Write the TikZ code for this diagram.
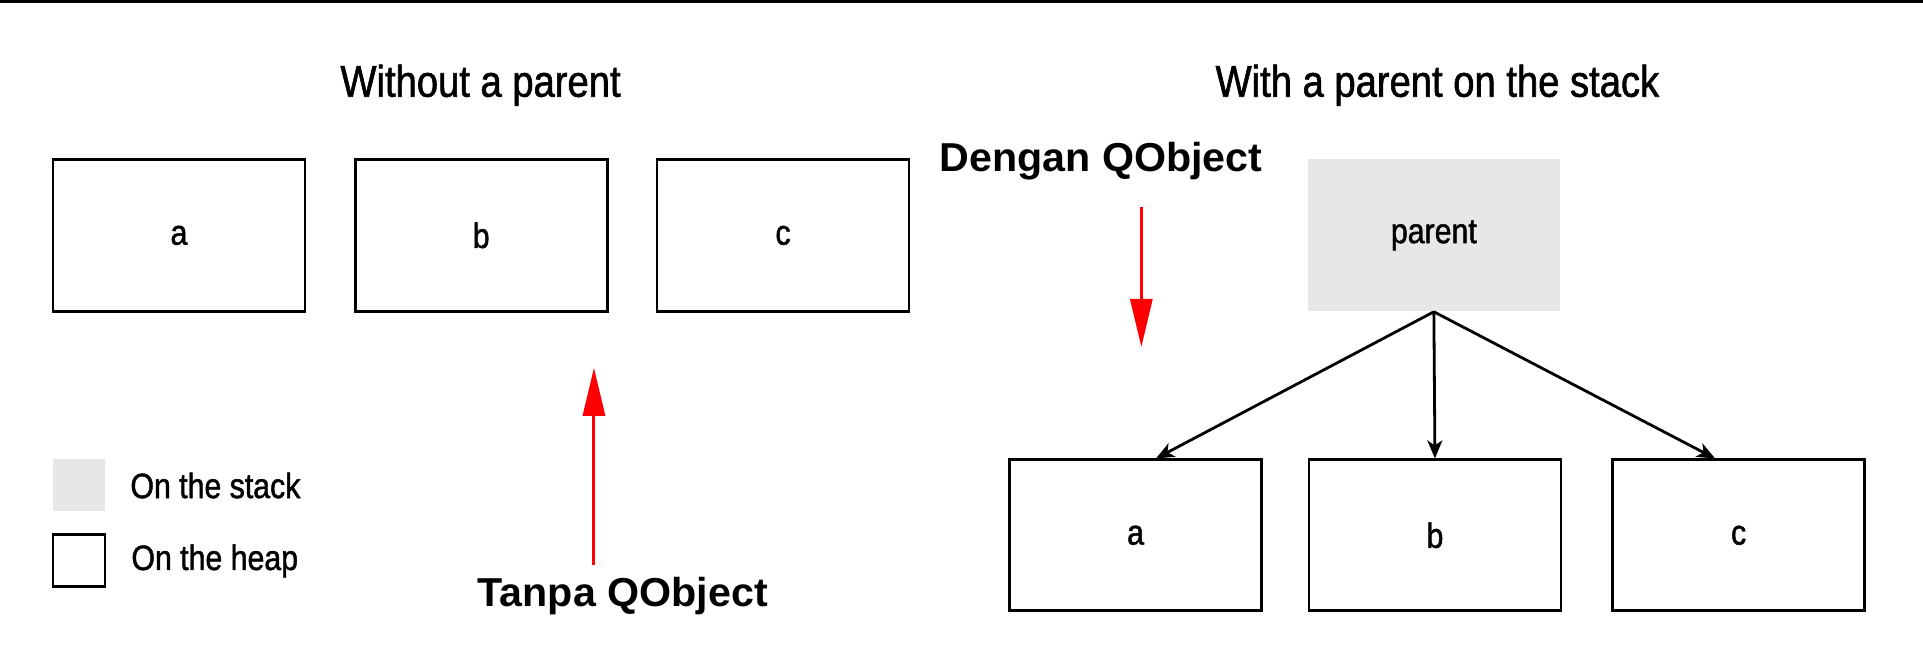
\documentclass[tikz,border=0pt]{standalone}
\usepackage{fontspec}
\setmainfont{Liberation Sans}
\newfontfamily\condfont[FakeStretch=0.86,FakeBold=1.3]{Liberation Sans}
\newfontfamily\qfont[FakeStretch=1.02]{Liberation Sans}
\usetikzlibrary{arrows.meta}
\definecolor{stackgray}{RGB}{230,231,232}
\definecolor{qred}{RGB}{255,0,0}
\tikzset{
  titletext/.style={font=\condfont\fontsize{22.2pt}{26pt}\selectfont, inner sep=0pt, anchor=base},
  qtext/.style={font=\qfont\bfseries\fontsize{20.2pt}{24pt}\selectfont, inner sep=0pt, anchor=base},
  labeltext/.style={font=\condfont\fontsize{17.6pt}{21pt}\selectfont},
  heapbox/.style={draw, line width=1.4pt, minimum width=126pt, minimum height=76pt, inner sep=0pt, labeltext},
  stackbox/.style={fill=stackgray, minimum width=126pt, minimum height=76pt, inner sep=0pt, labeltext},
  legsq/.style={minimum width=26pt, minimum height=26pt, inner sep=0pt},
  legtext/.style={labeltext, inner sep=0pt, anchor=west, xshift=12.3pt},
  childarrow/.style={line width=1.4pt, -{Stealth[length=9pt,width=7.5pt,inset=2.5pt]}},
  redarrow/.style={draw=qred, line width=1.5pt, -{Triangle[length=24pt,width=11pt]}}
}
\begin{document}
\begin{tikzpicture}[x=0.613pt, y=-0.613pt]
\useasboundingbox (0,0) rectangle (1568.6,539.2);
\fill[black] (0,0) rectangle (1568.6,2.5);

% titles
\node[titletext] (t1) at (392,78.9) {Without a parent};
\node[titletext] (t2) at (1172.5,78.9) {With a parent on the stack};

% left: no parent
\node[heapbox] (a1) at (146,192) {a};
\node[heapbox] (b1) at (392.5,192) {b};
\node[heapbox] (c1) at (638.7,192) {c};

% right: with parent
\node[stackbox] (p) at (1169.6,192) {parent};
\node[heapbox, minimum height=75.4pt] (a2) at (926.3,436.6) {a};
\node[heapbox, minimum height=75.4pt] (b2) at (1170.5,436.6) {b};
\node[heapbox, minimum height=75.4pt] (c2) at (1418.2,436.6) {c};

\draw[childarrow] (p.south) -- ([xshift=10.2pt]a2.north);
\draw[childarrow] (p.south) -- (b2.north);
\draw[childarrow] (p.south) -- ([xshift=-11.8pt]c2.north);

% legend
\node[legsq, fill=stackgray] (ls) at (64.5,396) {};
\node[legsq, draw, line width=1.4pt] (lh) at (64.5,457.5) {};
\node[legtext] (lst) at (ls.east) {On the stack};
\node[legtext] (lht) at (lh.east) {On the heap};

% annotations
\node[qtext] (dq) at (898,140) {Dengan QObject};
\node[qtext] (tq) at (508,495) {Tanpa QObject};
\coordinate (d1) at (931,168.6);
\coordinate (d2) at (931,283);
\coordinate (u1) at (484.5,461);
\coordinate (u2) at (484.5,300);
\draw[redarrow] (d1) -- (d2);
\draw[redarrow] (u1) -- (u2);
\end{tikzpicture}
\end{document}
